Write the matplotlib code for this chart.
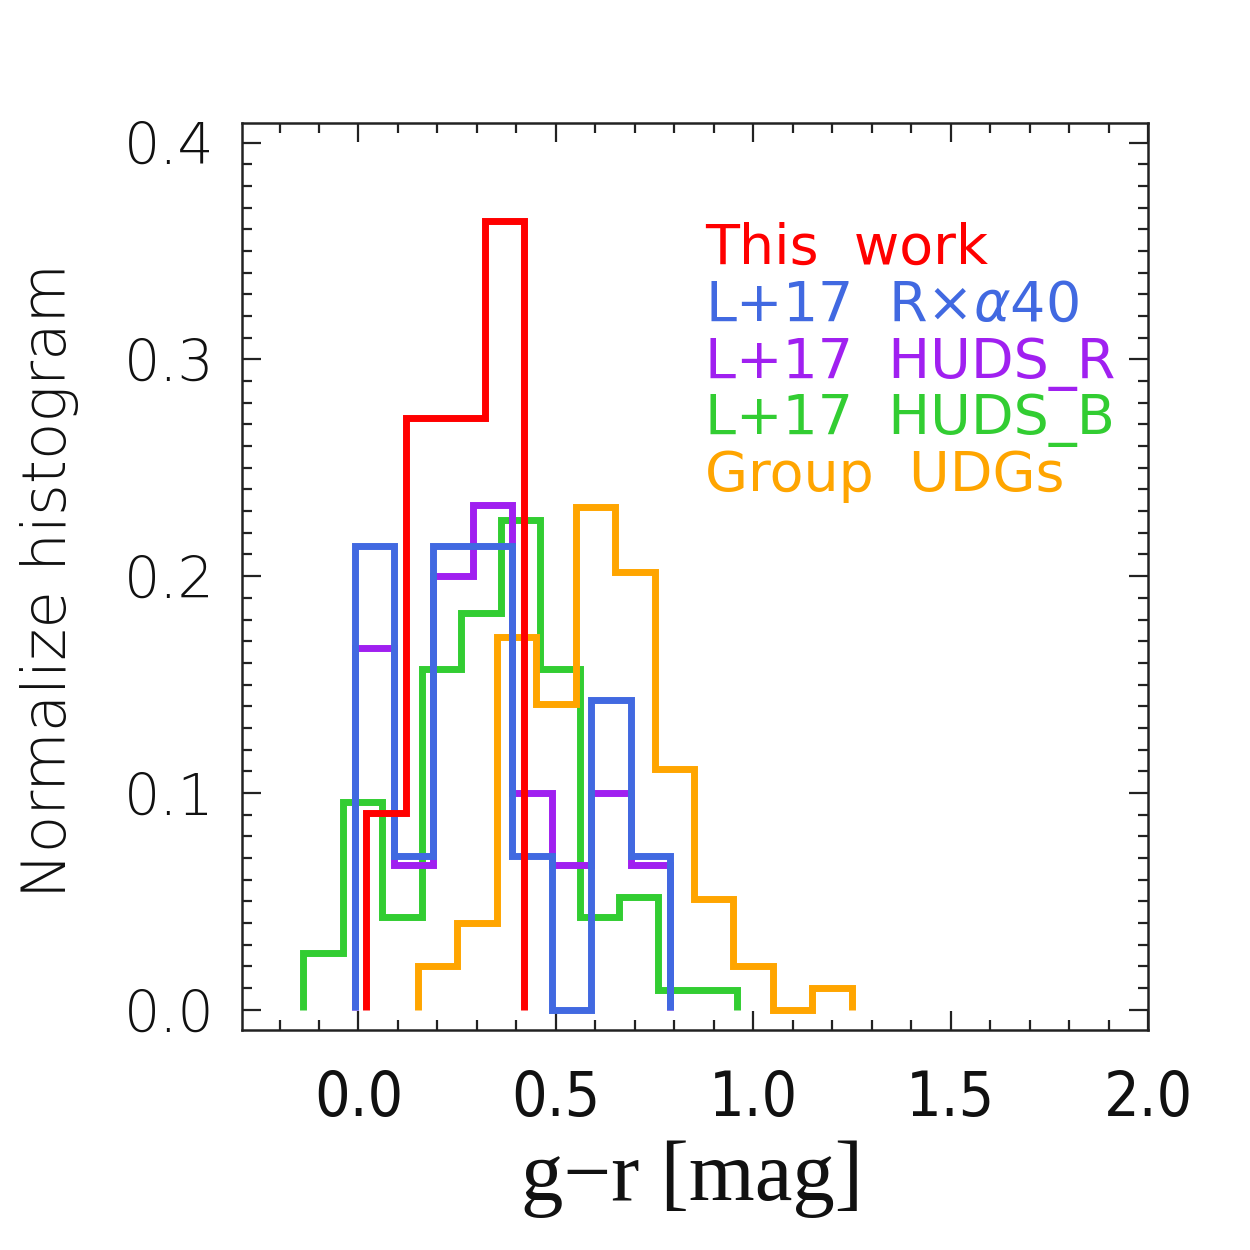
import matplotlib
matplotlib.use("Agg")
import matplotlib.pyplot as plt
from matplotlib.ticker import MultipleLocator
import numpy as np

# ---- data ----
red_edges = [0.02, 0.12, 0.22, 0.32, 0.42]
red_vals = [0.091, 0.273, 0.273, 0.364]

blue_edges = [-0.01, 0.09, 0.19, 0.29, 0.39, 0.49, 0.59, 0.69, 0.79]
blue_vals = [0.214, 0.071, 0.214, 0.214, 0.071, 0.0, 0.143, 0.071]

purple_edges = [-0.01, 0.09, 0.19, 0.29, 0.39, 0.49, 0.59, 0.69, 0.79]
purple_vals = [0.167, 0.067, 0.200, 0.233, 0.100, 0.067, 0.100, 0.067]

green_edges = [-0.14, -0.04, 0.06, 0.16, 0.26, 0.36, 0.46, 0.56, 0.66, 0.76, 0.86, 0.96]
green_vals = [0.026, 0.096, 0.043, 0.157, 0.183, 0.226, 0.157, 0.043, 0.052, 0.009, 0.009]

orange_edges = [0.15, 0.25, 0.35, 0.45, 0.55, 0.65, 0.75, 0.85, 0.95, 1.05, 1.15, 1.25]
orange_vals = [0.020, 0.040, 0.172, 0.141, 0.232, 0.202, 0.111, 0.051, 0.020, 0.0, 0.010]

labels = ["This  work", r"L+17  R$\times\alpha$40", "L+17  HUDS_R", "L+17  HUDS_B", "Group  UDGs"]
colors = ["#FF0000", "#4169E1", "#A020F0", "#32CD32", "#FFA500"]

x_ticks = [0.0, 0.5, 1.0, 1.5, 2.0]
y_ticks = [0.0, 0.1, 0.2, 0.3, 0.4]

def step_xy(edges, vals):
    xs, ys = [edges[0]], [0.0]
    for i, v in enumerate(vals):
        xs += [edges[i], edges[i + 1]]
        ys += [v, v]
    xs.append(edges[-1]); ys.append(0.0)
    return xs, ys

plt.rcParams["mathtext.fontset"] = "custom"
plt.rcParams["mathtext.rm"] = "DejaVu Sans"
plt.rcParams["mathtext.it"] = "DejaVu Sans:italic"

fig = plt.figure(figsize=(12.5, 12.5), dpi=100, facecolor="white")
ax = fig.add_axes([0.1936, 0.176, 0.7248, 0.7256])

lw = 5.0
series = [
    (green_edges, green_vals, colors[3]),
    (purple_edges, purple_vals, colors[2]),
    (orange_edges, orange_vals, colors[4]),
    (blue_edges, blue_vals, colors[1]),
    (red_edges, red_vals, colors[0]),
]
for e, v, c in series:
    xs, ys = step_xy(e, v)
    ax.plot(xs, ys, color=c, lw=lw, solid_joinstyle="miter", solid_capstyle="butt")

ax.set_xlim(-0.295, 2.0)
ax.set_ylim(-0.0093, 0.409)

ax.set_xticks(x_ticks)
ax.set_xticklabels([f"{t:.1f}" for t in x_ticks])
ax.set_yticks(y_ticks)
ax.set_yticklabels([f"{t:.1f}" for t in y_ticks])
ax.xaxis.set_minor_locator(MultipleLocator(0.1))
ax.yaxis.set_minor_locator(MultipleLocator(0.01))

ax.tick_params(which="both", direction="in", top=True, right=True, width=1.6, colors="#222222")
ax.tick_params(which="major", length=14)
ax.tick_params(which="minor", length=7)
ax.tick_params(axis="x", which="major", pad=28, labelsize=45, labelcolor="#111111")
ax.tick_params(axis="y", which="major", pad=20, labelsize=41, labelcolor="#111111")
for lab in ax.get_xticklabels():
    lab.set_family("DejaVu Sans")
    lab.set_fontstretch("condensed")
    lab.set_fontweight("light")
for lab in ax.get_yticklabels():
    lab.set_family("DejaVu Sans")
    lab.set_fontweight("light")

for sp in ax.spines.values():
    sp.set_linewidth(1.8)
    sp.set_color("#222222")

ax.set_xlabel("g\u2212r [mag]", fontsize=61, family="Liberation Serif", color="#111111")
ax.xaxis.set_label_coords(0.497, -0.165)
ax.xaxis.label.set_va("center")
ax.set_ylabel("Normalize histogram", fontsize=44, family="DejaVu Sans", fontweight="light", color="#111111")
ax.yaxis.set_label_coords(-0.212, 0.496)
ax.yaxis.label.set_va("center")

y0 = 0.344
for i, (lab, c) in enumerate(zip(labels, colors)):
    ax.text(0.878, y0 - i * 0.0262, lab, color=c, fontsize=40, family="DejaVu Sans",
            ha="left", va="baseline")

fig.savefig("out.png", dpi=100, facecolor="white")
